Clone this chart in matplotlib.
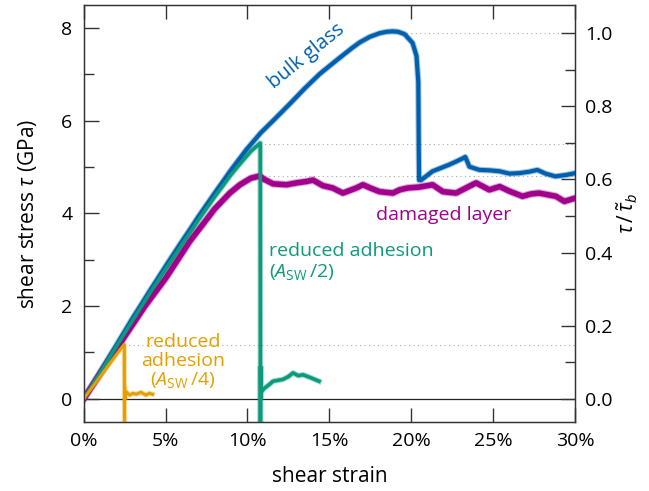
import matplotlib
matplotlib.use("Agg")
import matplotlib.pyplot as plt
from matplotlib.ticker import MultipleLocator, FuncFormatter

plt.rcParams['font.family'] = ['Open Sans', 'DejaVu Sans']
plt.rcParams['mathtext.fontset'] = 'custom'
plt.rcParams['mathtext.rm'] = 'Open Sans'
plt.rcParams['mathtext.it'] = 'Open Sans:italic'

# stress-strain curves (strain in %, stress in GPa)
bulk_x = [0, 1, 2, 3, 3.45, 4, 5, 6, 6.48, 7, 8, 9, 9.94, 10.81, 11.7, 12.57, 13.5, 14.41,
          15.0, 15.63, 16.42, 16.85, 17.46, 18.07, 18.5, 18.86, 19.2, 19.59, 20.08, 20.32,
          20.43, 20.46, 20.48, 20.6, 21.3, 21.8, 22.3, 22.8, 23.15, 23.3, 23.55, 24.16,
          24.8, 25.4, 26.0, 26.6, 27.2, 27.7, 28.2, 28.8, 29.45, 30.0]
bulk_y = [0, 0.58, 1.16, 1.75, 2.0, 2.31, 2.86, 3.40, 3.65, 3.93, 4.44, 4.94, 5.38, 5.74, 6.05,
          6.36, 6.70, 7.01, 7.18, 7.36, 7.58, 7.69, 7.81, 7.89, 7.92, 7.93, 7.92, 7.87, 7.68,
          7.40, 6.84, 5.37, 4.72, 4.72, 4.91, 4.98, 5.05, 5.13, 5.19, 5.22, 5.01, 4.94,
          4.93, 4.91, 4.86, 4.87, 4.90, 4.94, 4.86, 4.80, 4.83, 4.87]

damaged_x = [0, 1, 2, 3.74, 5, 6.48, 8, 8.92, 9.54, 10.2, 10.75, 11.0, 11.56, 12.38, 13.0,
             13.6, 14.0, 14.6, 15.2, 15.83, 16.65, 17.05, 17.5, 18.07, 18.88, 19.29, 19.79,
             20.5, 21.3, 21.93, 22.74, 23.4, 23.96, 24.5, 24.77, 25.4, 26.0, 26.8, 27.3,
             27.8, 28.4, 28.84, 29.35, 30.0]
damaged_y = [0, 0.54, 1.08, 2.0, 2.6, 3.40, 4.10, 4.44, 4.62, 4.76, 4.81, 4.74, 4.64, 4.62,
             4.66, 4.69, 4.72, 4.60, 4.55, 4.44, 4.55, 4.62, 4.55, 4.47, 4.44, 4.51, 4.55,
             4.57, 4.62, 4.47, 4.44, 4.56, 4.66, 4.56, 4.51, 4.58, 4.48, 4.37, 4.42, 4.44,
             4.40, 4.37, 4.26, 4.33]

half_x = [0, 1, 2, 3, 4, 5, 6, 7, 8, 9, 9.54, 10.2, 10.78, 10.79, 10.80, 10.81, 10.85,
          11.0, 11.3, 11.56, 12.17, 12.5, 12.78, 13.1, 13.39, 13.9, 14.37]
half_y = [0, 0.56, 1.13, 1.70, 2.26, 2.80, 3.33, 3.86, 4.36, 4.84, 5.07, 5.34, 5.52, -0.6,
          0.70, 0.02, 0.15, 0.22, 0.30, 0.38, 0.42, 0.48, 0.56, 0.50, 0.52, 0.45, 0.38]

quarter_x = [0, 0.5, 1.0, 1.5, 2.0, 2.3, 2.46, 2.48, 2.49, 2.50, 2.52, 2.6, 2.8, 3.0, 3.2,
             3.5, 3.8, 4.0, 4.2]
quarter_y = [0, 0.24, 0.48, 0.72, 0.96, 1.10, 1.17, 1.17, -0.6, 0.27, 0.0, 0.15, 0.08, 0.12,
             0.10, 0.14, 0.08, 0.12, 0.10]

tau_b = 7.89
peaks = [(18.86, 7.89), (10.78, 5.50), (10.75, 4.80), (2.48, 1.155)]

c_bulk = '#0060ad'
c_dam = '#a0008c'
c_half = '#0b9a7a'
c_quarter = '#e69f00'

fig = plt.figure(figsize=(6.49, 4.91), dpi=100)
ax = fig.add_axes([0.129, 0.1405, 0.757, 0.8495])

for px, py in peaks:
    ax.plot([px, 30], [py, py], ls=(0, (1, 3)), color='#aaaaaa', lw=0.8, zorder=1)
ax.axhline(0, color='#222222', lw=0.9, zorder=1)

for xs, ys, c, w in [(bulk_x, bulk_y, c_bulk, 3.0), (damaged_x, damaged_y, c_dam, 4.0),
                     (half_x, half_y, c_half, 2.6), (quarter_x, quarter_y, c_quarter, 2.2)]:
    ax.plot(xs, ys, color=c, lw=w + 1.5, alpha=0.35, solid_joinstyle='round', zorder=2)
    ax.plot(xs, ys, color=c, lw=w, solid_joinstyle='round', zorder=3)

ax.set_xlim(0, 30)
ax.set_ylim(-0.5, 8.5)
ax.xaxis.set_major_locator(MultipleLocator(5))
ax.xaxis.set_major_formatter(FuncFormatter(lambda v, p: f'{v:.0f}%'))
ax.yaxis.set_major_locator(MultipleLocator(2))
ax.yaxis.set_minor_locator(MultipleLocator(1))
ax.tick_params(axis='x', which='major', direction='in', top=True, length=10, width=1,
               labelsize=14, pad=7, color='#333333')
ax.tick_params(axis='y', which='major', direction='in', right=False, length=11, width=1,
               labelsize=14, pad=8, color='#333333')
ax.tick_params(axis='y', which='minor', direction='in', right=False, length=7, width=1,
               color='#333333')
for s in ax.spines.values():
    s.set_color('#333333')
    s.set_linewidth(1.0)

ax2 = ax.twinx()
ax2.set_ylim(-0.5 / tau_b, 8.5 / tau_b)
ax2.yaxis.set_major_locator(MultipleLocator(0.2))
ax2.yaxis.set_minor_locator(MultipleLocator(0.1))
ax2.yaxis.set_major_formatter(FuncFormatter(lambda v, p: f'{v:.1f}'))
ax2.tick_params(which='major', direction='in', length=10, width=1, labelsize=14, pad=7,
                color='#333333')
ax2.tick_params(which='minor', direction='in', length=7, width=1, color='#333333')
for s in ax2.spines.values():
    s.set_color('#333333')

ax.set_xlabel('shear strain', fontsize=15, labelpad=12)
ax.set_ylabel(r'shear stress $\tau$ (GPa)', fontsize=15, labelpad=16)
ax2.set_ylabel(r'$\tau\,/\,\tilde{\tau}_b$', fontsize=15, labelpad=2)

ax.text(13.6, 7.4, 'bulk glass', color=c_bulk, fontsize=14.5, rotation=39,
        ha='center', va='center')
ax.text(22.0, 3.97, 'damaged layer', color=c_dam, fontsize=14, ha='center', va='center')
ax.text(11.3, 2.95, 'reduced adhesion\n($A_\\mathrm{SW}\\,/2$)', color=c_half, fontsize=14,
        ha='left', va='center', linespacing=1.1)
ax.text(6.05, 0.8, 'reduced\nadhesion\n($A_\\mathrm{SW}\\,/4$)', color=c_quarter,
        fontsize=14, ha='center', va='center', linespacing=1.05)

fig.savefig('out.png', dpi=100)
